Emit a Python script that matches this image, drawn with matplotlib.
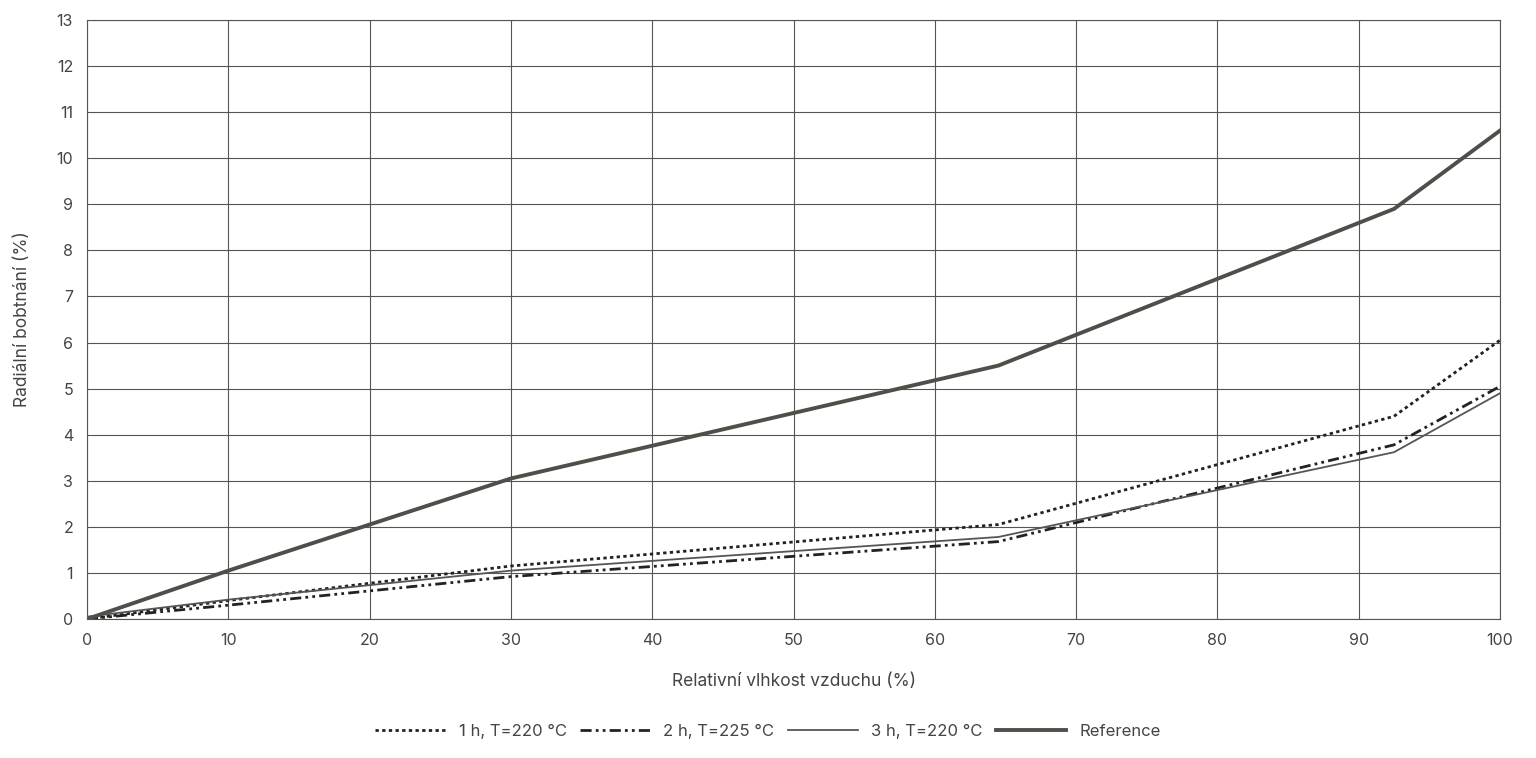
import matplotlib
matplotlib.use("Agg")
import matplotlib.pyplot as plt

x = [0, 10, 30, 64.5, 92.5, 100]
ref = [0, 1.05, 3.05, 5.5, 8.9, 10.6]
h1 = [0, 0.4, 1.15, 2.05, 4.4, 6.05]
h2 = [0, 0.3, 0.92, 1.68, 3.78, 5.05]
h3 = [0.05, 0.42, 1.05, 1.78, 3.62, 4.9]
labels = ["1 h, T=220 °C", "2 h, T=225 °C", "3 h, T=220 °C", "Reference"]

plt.rcParams["font.family"] = "Inter"
fig = plt.figure(figsize=(15.36, 7.58), dpi=100)
ax = fig.add_axes([87/1536, 1-619/758, (1500-87)/1536, (619-20)/758])
ax.plot(x, h1, color="#222", lw=2, ls=(0, (1.2, 1.2)), label=labels[0])
ax.plot(x, h2, color="#222", lw=2, ls=(0, (4, 1.5, 1, 1.5, 1, 1.5)), label=labels[1])
ax.plot(x, h3, color="#555", lw=1.3, label=labels[2])
ax.plot(x, ref, color="#4f4f4a", lw=2.8, label=labels[3])
ax.set_xlim(0, 100); ax.set_ylim(0, 13)
ax.set_xticks(range(0, 101, 10)); ax.set_yticks(range(0, 14))
ax.grid(True, color="#555", lw=0.8)
for s in ax.spines.values():
    s.set_color("#555"); s.set_linewidth(0.8)
ax.tick_params(length=0, colors="#444", labelsize=11.5, pad=10)
ax.set_xlabel("Relativní vlhkost vzduchu (%)", fontsize=12.5, color="#444", labelpad=18)
ax.set_ylabel("Radiální bobtnání (%)", fontsize=12.5, color="#444", labelpad=18)
ax.set_axisbelow(True)
leg = fig.legend(loc="center", bbox_to_anchor=(0.5, 1-731/758), ncol=4, frameon=False,
                 fontsize=12, handlelength=4.2, handletextpad=0.8, columnspacing=0.8)
for t in leg.get_texts(): t.set_color("#444")
fig.savefig("out.png", dpi=100)
